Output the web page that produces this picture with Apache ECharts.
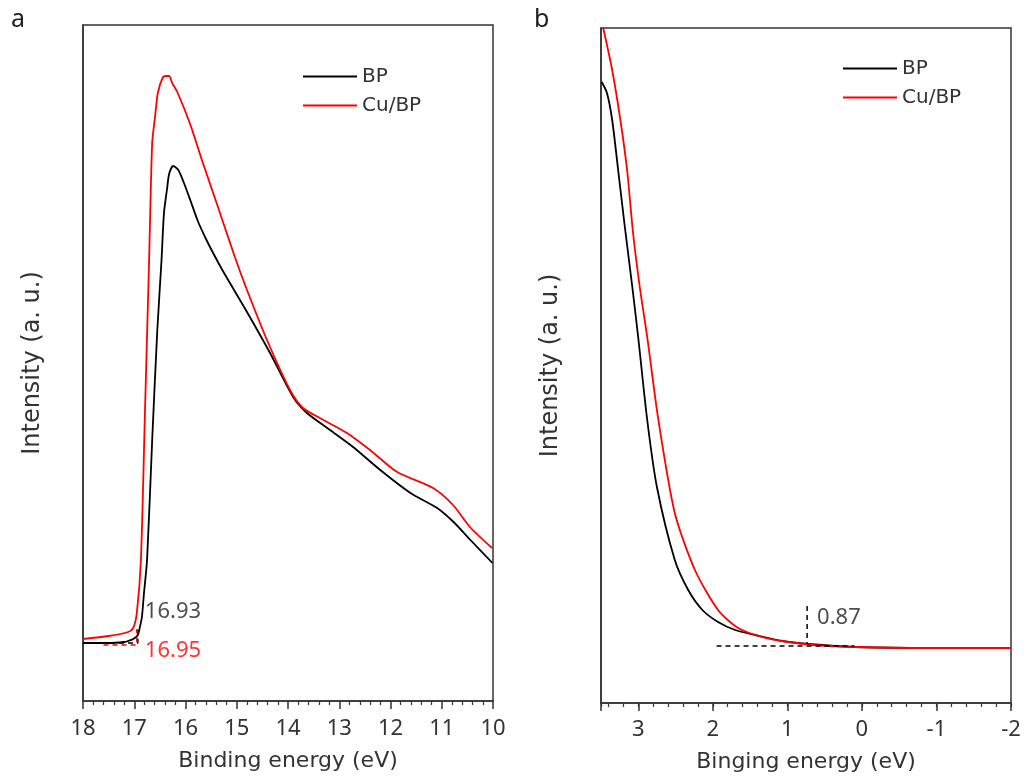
<!DOCTYPE html>
<html>
<head>
<meta charset="utf-8">
<script src="https://cdn.jsdelivr.net/npm/echarts@6/dist/echarts.min.js"></script>
<style>
html,body{margin:0;padding:0;background:#fff;}
#chart{width:1027px;height:778px;}
</style>
</head>
<body>
<div id="chart"></div>
<script>
// ---- Panel a (UPS cutoff region) ----
const aBpE  = [18.0, 17.5, 17.2, 17.12, 17.02, 16.93, 16.89, 16.85, 16.81, 16.75, 16.65, 16.55, 16.47, 16.42, 16.36, 16.32, 16.24, 16.14, 16.03, 15.90, 15.76, 15.60, 15.43, 15.27, 15.03, 14.80, 14.35, 13.90, 13.63, 13.18, 12.73, 12.20, 11.61, 11.09, 10.77, 10.44, 10.01];
const aBpI  = [58, 58, 59, 60, 62, 66, 74, 84, 108, 141, 261, 371, 439, 488, 512, 527, 535, 531, 518, 500, 480, 462, 445, 430, 409, 389, 348, 304, 288, 271, 254, 231, 208, 193, 179, 161, 138];
const aCuE  = [18.0, 17.5, 17.12, 17.02, 16.95, 16.87, 16.79, 16.71, 16.65, 16.59, 16.54, 16.44, 16.38, 16.32, 16.26, 16.16, 15.91, 15.66, 15.38, 15.03, 14.80, 14.41, 13.96, 13.71, 13.38, 12.85, 12.40, 11.87, 11.17, 10.78, 10.45, 10.02];
const aCuI  = [62, 65, 69, 73, 88, 141, 291, 441, 558, 586, 608, 624, 625, 625, 618, 609, 577, 538, 496, 443, 411, 361, 311, 293, 283, 268, 251, 229, 213, 196, 174, 153];
const aTicks = [18, 17, 16, 15, 14, 13, 12, 11, 10];
const aCutBp = 16.93, aCutCu = 16.95;

// ---- Panel b (valence band region) ----
const bBpE = [3.49, 3.42, 3.35, 3.27, 3.18, 3.08, 3.0, 2.88, 2.75, 2.51, 2.33, 2.14, 1.93, 1.70, 1.43, 1.07, 0.72, 0.09, -1.0, -2.0];
const bBpI = [621, 610, 583, 533, 476, 416, 365, 283, 216, 143, 113, 93, 81, 73, 68, 62, 59, 56, 55, 55];
const bCuE = [3.47, 3.35, 3.24, 3.15, 3.07, 2.98, 2.88, 2.73, 2.51, 2.24, 1.93, 1.66, 1.34, 0.99, 0.45, -1.0, -2.0];
const bCuI = [675, 633, 583, 533, 470, 416, 366, 283, 190, 133, 93, 75, 66, 61, 57, 55, 55];
const bTicks = [3, 2, 1, 0, -1, -2];
const bVbmPos = 0.735;     // where the marker is drawn
const bVbmText = '0.87';

const seriesNames = ['BP', 'Cu/BP'];
const FONT = 'Noto Sans';
const TFONT = 'DejaVu Sans';
const BLACK = '#000000', RED = '#ff0000', TXT = '#333333';

function zip(xs, ys){ return xs.map((x,i)=>[x, ys[i]]); }

const chart = echarts.init(document.getElementById('chart'), null, {renderer:'canvas'});

function lineSeries(name, data, color, xi, yi){
  return {type:'line', name, data, xAxisIndex:xi, yAxisIndex:yi, showSymbol:false, symbol:'none',
    lineStyle:{color, width:1.8}, itemStyle:{color}, smooth:0.25,
    emphasis:{disabled:true}, z:3};
}
function dashSeries(data, color, xi, yi){
  return {type:'line', name:'guide', data, xAxisIndex:xi, yAxisIndex:yi, showSymbol:false, symbol:'none',
    lineStyle:{color, width:1.5, type:[5,4]}, emphasis:{disabled:true}, z:4, silent:true};
}
function textSeries(pt, text, color, xi, yi, dist){
  return {type:'scatter', name:'note', data:[pt], xAxisIndex:xi, yAxisIndex:yi, symbolSize:0, silent:true,
    label:{show:true, position:'right', distance:dist, formatter:text, color, fontFamily:FONT, fontSize:22}};
}

const axisCommon = {
  axisLine:{show:true, onZero:false, lineStyle:{color:'#333', width:1.5}},
  splitLine:{show:false},
  nameLocation:'middle',
  nameTextStyle:{fontFamily:TFONT, fontSize:22, color:TXT}
};

const option = {
  animation:false,
  backgroundColor:'#ffffff',
  title:[
    {text:'a', left:6, top:2, textStyle:{fontFamily:FONT, fontSize:25, fontWeight:'normal', color:'#222'}},
    {text:'b', left:529, top:2, textStyle:{fontFamily:FONT, fontSize:25, fontWeight:'normal', color:'#222'}}
  ],
  legend:[
    {data:seriesNames, left:298, top:61, orient:'vertical', itemWidth:54, itemHeight:2, itemGap:8, icon:'rect',
     textStyle:{fontFamily:TFONT, fontSize:20, color:TXT, lineHeight:21}},
    {data:seriesNames, left:838, top:53, orient:'vertical', itemWidth:54, itemHeight:2, itemGap:8, icon:'rect',
     textStyle:{fontFamily:TFONT, fontSize:20, color:TXT, lineHeight:21}}
  ],
  grid:[
    {left:83, top:25, width:410, height:676, show:true, borderColor:'#333', borderWidth:1.5,
     backgroundColor:'transparent', outerBoundsMode:'none', containLabel:false},
    {left:601, top:28, width:410, height:675, show:true, borderColor:'#333', borderWidth:1.5,
     backgroundColor:'transparent', outerBoundsMode:'none', containLabel:false}
  ],
  xAxis:[
    Object.assign({}, axisCommon, {
      gridIndex:0, type:'value', position:'bottom', min:Math.min(...aTicks), max:Math.max(...aTicks), interval:1, inverse:true,
      name:'Binding energy (eV)', nameGap:49,
      axisTick:{show:true, length:8, lineStyle:{color:'#333', width:1.5}},
      minorTick:{show:true, splitNumber:5, length:4, lineStyle:{color:'#333', width:1.2}},
      axisLabel:{fontFamily:FONT, fontSize:22, color:TXT, margin:17,
        formatter:v=> aTicks.includes(v) ? String(v) : ''}
    }),
    Object.assign({}, axisCommon, {
      gridIndex:1, type:'value', position:'bottom', min:Math.min(...bTicks), max:3.5, interval:1, inverse:true,
      name:'Binging energy (eV)', nameGap:48,
      axisTick:{show:true, length:8, lineStyle:{color:'#333', width:1.5}},
      axisLabel:{fontFamily:FONT, fontSize:22, color:TXT, margin:16,
        formatter:v=> bTicks.includes(v) ? String(v) : ''}
    }),
    {
      gridIndex:1, type:'value', position:'bottom', min:Math.min(...bTicks), max:3.5, interval:0.2, inverse:true,
      axisLine:{show:false, onZero:false}, axisLabel:{show:false}, splitLine:{show:false},
      axisTick:{show:true, length:4, lineStyle:{color:'#333', width:1.2}}
    }
  ],
  yAxis:[
    Object.assign({}, axisCommon, {gridIndex:0, type:'value', position:'left', min:0, max:676, name:'Intensity (a. u.)', nameGap:38,
      nameTextStyle:{fontFamily:TFONT, fontSize:24, color:TXT},
      axisTick:{show:false}, axisLabel:{show:false}}),
    Object.assign({}, axisCommon, {gridIndex:1, type:'value', position:'left', min:0, max:675, name:'Intensity (a. u.)', nameGap:38,
      nameTextStyle:{fontFamily:TFONT, fontSize:24, color:TXT},
      axisTick:{show:false}, axisLabel:{show:false}})
  ],
  series:[
    lineSeries('BP', zip(aBpE, aBpI), BLACK, 0, 0),
    lineSeries('Cu/BP', zip(aCuE, aCuI), RED, 0, 0),
    dashSeries([[18, 58],[aCutBp, 58],[aCutBp, 74]], BLACK, 0, 0),
    dashSeries([[17.6, 56],[aCutCu, 56],[aCutCu, 72]], RED, 0, 0),
    textSeries([aCutBp, 89], String(aCutBp), '#222', 0, 0, 7),
    textSeries([aCutCu, 50], String(aCutCu), RED, 0, 0, 8),

    lineSeries('BP', zip(bBpE, bBpI), BLACK, 1, 1),
    lineSeries('Cu/BP', zip(bCuE, bCuI), RED, 1, 1),
    dashSeries([[1.95, 57],[0.1, 57]], BLACK, 1, 1),
    dashSeries([[bVbmPos, 97],[bVbmPos, 59]], BLACK, 1, 1),
    textSeries([bVbmPos, 85], bVbmText, '#222', 1, 1, 10)
  ]
};
chart.setOption(option);
</script>
</body>
</html>
